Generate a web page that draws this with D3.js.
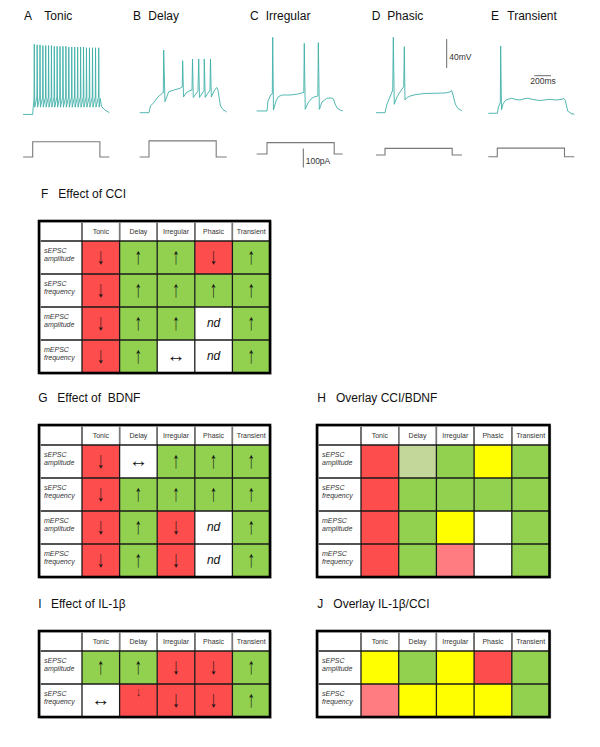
<!DOCTYPE html>
<html>
<head>
<meta charset="utf-8">
<script src="https://cdn.jsdelivr.net/npm/d3@7"></script>
<style>
  body { margin: 0; background: #fff; }
  svg { display: block; font-family: "Liberation Sans", Arial, sans-serif; }
</style>
</head>
<body>
<script>
// ---- firing patterns (time in ms from step onset, membrane potential in mV) ----
const panelLetters = ["A", "B", "C", "D", "E"];
const panelNames = ["Tonic", "Delay", "Irregular", "Phasic", "Transient"];
const stepCurrent = [80, 85, 60, 35, 45];   // pA
const stepDuration = 800;                    // ms

const tonicSpikeTimes = [19, 53, 87, 121, 155, 189, 223, 257, 291, 325, 360, 395,
    430, 465, 500, 535, 570, 605, 640, 676, 712, 748, 786];
const tonicSpikePeaks = [30, 29, 29, 28, 28, 28, 28, 27, 27, 27, 27, 27,
    26, 26, 26, 26, 26, 26, 25, 25, 25, 25, 25];

const traceDelay = [[-111, -64.6], [0, -64.6], [18, -55.3], [56, -50.8], [107, -42.9], [161, -37.4],
    [170, -37.4], [175, 21.9], [190, -49.4], [235, -35.6], [298, -33.3], [369, -30.9], [396, -29.1],
    [401, 7.1], [411, -42.9], [440, -37.4], [476, -34.7], [512, -33.3], [518, 9.5], [527, -43.6],
    [583, -34.7], [592, 9.5], [601, -43.6], [655, -34], [658, 9.5], [669, -43.6], [726, -33.3],
    [732, 9.5], [742, -42.9], [774, -34.7], [806, -29.8], [821, -33.3], [851, -55.3], [881, -60.2],
    [925, -63.6]];
const traceIrregular = [[-123, -62.2], [0, -62.2], [12, -48.4], [44, -40.2], [63, -38.8], [68, 39.4],
    [77, -60.9], [107, -48.4], [135, -42.5], [179, -40.2], [274, -40.2], [369, -38.8], [438, -36.7],
    [444, 31.1], [455, -59.9], [488, -51.2], [524, -45.7], [560, -42.9], [605, -41.6], [611, 32],
    [623, -59.9], [655, -49.8], [711, -44.7], [762, -44.3], [792, -45.7], [810, -52.6], [837, -58.5],
    [869, -60.9], [902, -62.2]];
const tracePhasic = [[-107, -64.6], [0, -64.6], [20, -54], [54, -44.3], [92, -33.3], [99, 39.4],
    [110, -53], [143, -42.9], [179, -36], [223, -28.7], [230, 26.4], [238, -47.1], [262, -43.6],
    [298, -41.6], [369, -39.5], [476, -38.1], [595, -37.8], [714, -37.4], [774, -36], [792, -34],
    [810, -40.2], [837, -52.6], [869, -58.8], [917, -62.2]];
const traceTransient = [[-107, -65.4], [0, -65.4], [12, -58.1], [27, -52.6], [36, -51.2], [40, 27.4],
    [50, -60.9], [68, -52.6], [92, -48.4], [115, -46.4], [171, -44.7], [223, -46.4], [270, -47.1],
    [318, -45.4], [365, -44.7], [425, -46.4], [508, -47.8], [580, -46.7], [627, -46.1], [699, -47.1],
    [758, -46.4], [794, -45], [812, -48.4], [838, -62.2], [878, -65.7], [917, -66.8]];

// ---- summary tables ----
const columns = ["Tonic", "Delay", "Irregular", "Phasic", "Transient"];
const rowsAll = [["sEPSC", "amplitude"], ["sEPSC", "frequency"], ["mEPSC", "amplitude"], ["mEPSC", "frequency"]];
const rowsSpont = [["sEPSC", "amplitude"], ["sEPSC", "frequency"]];

// r red, g green, w white, y yellow, p pale green, l light red
const cciColors = [["r", "g", "g", "r", "g"], ["r", "g", "g", "g", "g"], ["r", "g", "g", "w", "g"], ["r", "g", "w", "w", "g"]];
const cciMarks = [["↓", "↑", "↑", "↓", "↑"], ["↓", "↑", "↑", "↑", "↑"], ["↓", "↑", "↑", "nd", "↑"], ["↓", "↑", "↔", "nd", "↑"]];
const bdnfColors = [["r", "w", "g", "g", "g"], ["r", "g", "g", "g", "g"], ["r", "g", "r", "w", "g"], ["r", "g", "r", "w", "g"]];
const bdnfMarks = [["↓", "↔", "↑", "↑", "↑"], ["↓", "↑", "↑", "↑", "↑"], ["↓", "↑", "↓", "nd", "↑"], ["↓", "↑", "↓", "nd", "↑"]];
const overlayCciBdnf = [["r", "p", "g", "y", "g"], ["r", "g", "g", "g", "g"], ["r", "g", "y", "w", "g"], ["r", "g", "l", "w", "g"]];
const il1bColors = [["g", "g", "r", "r", "g"], ["w", "r", "r", "r", "g"]];
const il1bMarks = [["↑", "↑", "↓", "↓", "↑"], ["↔", "↓s", "↓", "↓", "↑"]];
const overlayIl1bCci = [["y", "g", "y", "r", "g"], ["l", "y", "y", "y", "g"]];

const fills = { r: "#fe4d4d", g: "#92d050", w: "#ffffff", y: "#ffff00", p: "#c4d79b", l: "#ff7c80" };

// ---- drawing ----
const svg = d3.select("body").append("svg").attr("width", 600).attr("height", 747);
svg.append("rect").attr("width", 600).attr("height", 747).attr("fill", "#fff");

const traceColor = "#3fb0a8";
const vY = d3.scaleLinear().domain([-65, 35]).range([113, 40.5]);
const tX = d3.scaleLinear().domain([0, 1000]).range([0, 84]);
const iY = d3.scaleLinear().domain([0, 100]).range([0, -19]);

const traceTonic = [[-115, -67], [0, -67], [5, -58], [12, -50]]
    .concat(tonicSpikeTimes.flatMap((t, k) => [[t - 3, -43], [t, tonicSpikePeaks[k]], [t + 5, -57]]))
    .concat([[805, -45], [818, -56], [862, -61], [913, -64.6]]);
const traces = [traceTonic, traceDelay, traceIrregular, tracePhasic, traceTransient];

const onsetX = [32.7, 149, 267, 385, 497.3];
const currentBase = [157, 157, 154, 155, 156.7];
const letterX = [24, 133, 250, 371.7, 491];
const nameX = [44.3, 148.3, 265.7, 387.3, 507.3];

const vLine = d3.line().x(d => tX(d[0])).y(d => vY(d[1]));

traces.forEach((tr, i) => {
    svg.append("text").attr("x", letterX[i]).attr("y", 20).attr("font-size", 12).attr("fill", "#111").text(panelLetters[i]);
    svg.append("text").attr("x", nameX[i]).attr("y", 20).attr("font-size", 12).attr("fill", "#111").text(panelNames[i]);

    var g = svg.append("g").attr("transform", "translate(" + [onsetX[i], 0] + ")");
    g.append("path").datum(tr).attr("d", vLine)
        .attr("fill", "none").attr("stroke", traceColor).attr("stroke-width", 0.9).attr("stroke-linejoin", "round");

    var t0 = tr[0][0], t1 = tr[tr.length - 1][0], amp = stepCurrent[i];
    var cur = [[t0, 0], [0, 0], [0, amp], [stepDuration, amp], [stepDuration, 0], [t1, 0]];
    g.append("path").datum(cur)
        .attr("d", d3.line().x(d => tX(d[0])).y(d => currentBase[i] + iY(d[1])))
        .attr("fill", "none").attr("stroke", "#7a7a7a").attr("stroke-width", 1.1);
});

// scale bars
var sb = svg.append("g").attr("stroke", "#6a6a6a").attr("stroke-width", 1);
sb.append("line").attr("x1", 446.7).attr("x2", 446.7).attr("y1", vY(-3)).attr("y2", vY(37));
sb.append("line").attr("x1", 534.3).attr("x2", 534.3 + tX(200)).attr("y1", 75.7).attr("y2", 75.7);
sb.append("line").attr("x1", 303.3).attr("x2", 303.3).attr("y1", 167.5).attr("y2", 167.5 + iY(100));
svg.append("text").attr("x", 449.3).attr("y", 59.5).attr("font-size", 8.5).attr("fill", "#333").text("40mV");
svg.append("text").attr("x", 543).attr("y", 84.3).attr("text-anchor", "middle").attr("font-size", 8.5).attr("fill", "#333").text("200ms");
svg.append("text").attr("x", 305.7).attr("y", 164.3).attr("font-size", 8.5).attr("fill", "#333").text("100pA");

// tables
const headerH = 20, rowH = 33;
const tables = [
    { letter: "F", title: "Effect of CCI", lx: 41, tx: 58.3, ty: 198, x0: 39, x1: 82, x2: 270, y0: 221, rows: rowsAll, colors: cciColors, marks: cciMarks },
    { letter: "G", title: "Effect of  BDNF", lx: 38.3, tx: 57.3, ty: 401.7, x0: 39, x1: 82, x2: 270, y0: 425, rows: rowsAll, colors: bdnfColors, marks: bdnfMarks },
    { letter: "H", title: "Overlay CCI/BDNF", lx: 317.3, tx: 336, ty: 401.7, x0: 317, x1: 361, x2: 549.5, y0: 425, rows: rowsAll, colors: overlayCciBdnf, marks: null },
    { letter: "I", title: "Effect of IL-1β", lx: 38.3, tx: 51, ty: 608.3, x0: 39, x1: 82, x2: 270, y0: 631, rows: rowsSpont, colors: il1bColors, marks: il1bMarks },
    { letter: "J", title: "Overlay IL-1β/CCI", lx: 317.3, tx: 333.3, ty: 608.3, x0: 317, x1: 361, x2: 549.5, y0: 631, rows: rowsSpont, colors: overlayIl1bCci, marks: null }
];

function markSize(m) {
    if (m === "nd") return 12;
    if (m === "↓s") return 13;
    if (m === "↔") return 19;
    return 23;
}

function drawTable(t) {
    var g = svg.append("g");
    g.append("text").attr("x", t.lx).attr("y", t.ty).attr("font-size", 12).attr("fill", "#111").text(t.letter);
    g.append("text").attr("x", t.tx).attr("y", t.ty).attr("font-size", 12).attr("fill", "#111")
        .style("white-space", "pre").text(t.title);

    var y1 = t.y0 + headerH;
    var yEnd = y1 + rowH * t.rows.length;
    var x = d3.scaleBand().domain(columns).range([t.x1, t.x2]);
    var y = d3.scaleBand().domain(d3.range(t.rows.length)).range([y1, yEnd]);

    g.append("rect").attr("x", t.x0).attr("y", t.y0).attr("width", t.x2 - t.x0).attr("height", yEnd - t.y0).attr("fill", "#fff");

    var cells = t.colors.flatMap((row, r) => row.map((c, k) => ({ r: r, col: columns[k], c: c, m: t.marks ? t.marks[r][k] : "" })));
    g.selectAll(".cell").data(cells).enter().append("rect")
        .attr("x", d => x(d.col)).attr("y", d => y(d.r))
        .attr("width", x.bandwidth()).attr("height", y.bandwidth())
        .attr("fill", d => fills[d.c]);

    g.selectAll(".hdr").data(columns).enter().append("text")
        .attr("x", d => x(d) + x.bandwidth() / 2).attr("y", t.y0 + headerH / 2 + 2.5)
        .attr("text-anchor", "middle").attr("font-size", 7).attr("fill", "#333").text(d => d);

    var rl = g.selectAll(".rl").data(t.rows).enter().append("text")
        .attr("font-size", 7).attr("font-style", "italic").attr("fill", "#333");
    rl.append("tspan").attr("x", t.x0 + 5).attr("y", (d, r) => y(r) + 11.5).text(d => d[0]);
    rl.append("tspan").attr("x", t.x0 + 5).attr("y", (d, r) => y(r) + 20).text(d => d[1]);

    // arrows are squeezed sideways so they come out thin, like the original
    var mk = cells.filter(d => d.m);
    g.selectAll(".mk").data(mk).enter().append("text")
        .attr("transform", d => {
            var cx = x(d.col) + x.bandwidth() / 2;
            var cy = d.m === "↓s" ? y(d.r) + 8 : y(d.r) + y.bandwidth() / 2;
            var sx = (d.m === "↑" || d.m === "↓" || d.m === "↓s") ? 0.62 : 1;
            return "translate(" + [cx, cy] + ") scale(" + sx + ",1)";
        })
        .attr("dy", d => d.m === "nd" ? "0.32em" : "0.3em")
        .attr("text-anchor", "middle")
        .attr("font-size", d => markSize(d.m))
        .attr("font-style", d => d.m === "nd" ? "italic" : "normal")
        .attr("fill", "#111")
        .text(d => d.m === "↓s" ? "↓" : d.m);

    var vx = [t.x1].concat(columns.slice(1).map(c => x(c)));
    g.selectAll(".vl").data(vx).enter().append("line")
        .attr("x1", d => d).attr("x2", d => d).attr("y1", t.y0).attr("y2", yEnd)
        .attr("stroke", "#1a1a1a").attr("stroke-width", 1.3);
    var hy = [y1].concat(d3.range(1, t.rows.length).map(r => y(r)));
    g.selectAll(".hl").data(hy).enter().append("line")
        .attr("x1", t.x0).attr("x2", t.x2).attr("y1", d => d).attr("y2", d => d)
        .attr("stroke", "#1a1a1a").attr("stroke-width", 1.3);
    g.selectAll(".hs").data(vx).enter().append("line")
        .attr("x1", d => d).attr("x2", d => d).attr("y1", t.y0 + 1).attr("y2", y1 - 1)
        .attr("stroke", "#777").attr("stroke-width", 1.4);

    g.append("rect").attr("x", t.x0 + 1.3).attr("y", t.y0 + 1.3)
        .attr("width", t.x2 - t.x0).attr("height", yEnd - t.y0)
        .attr("fill", "none").attr("stroke", "#ccc").attr("stroke-width", 1);
    g.append("rect").attr("x", t.x0).attr("y", t.y0)
        .attr("width", t.x2 - t.x0).attr("height", yEnd - t.y0)
        .attr("fill", "none").attr("stroke", "#000").attr("stroke-width", 2.6);
}

tables.forEach(drawTable);
</script>
</body>
</html>
